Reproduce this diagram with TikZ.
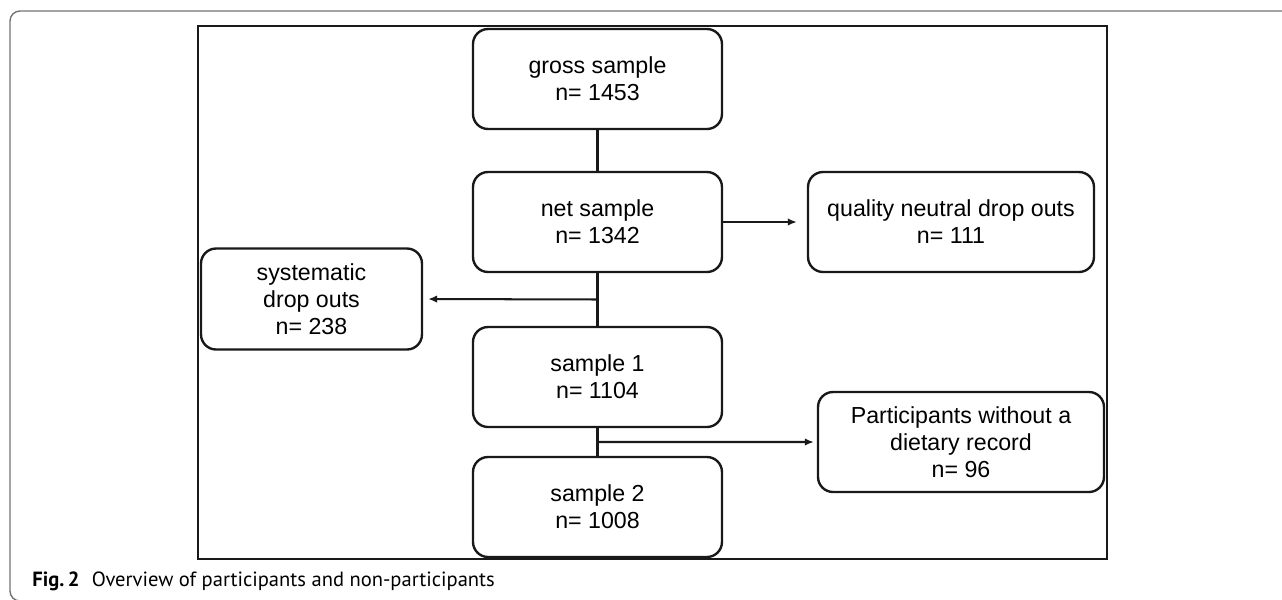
\documentclass[tikz,border=0pt]{standalone}
\usepackage{fontspec}
\setmainfont{Liberation Sans}
\newfontfamily\capfont{PT Sans}
\usepackage{tikz}
\usetikzlibrary{arrows.meta,calc}
\colorlet{flowline}{black!90}
\colorlet{framegray}{black!55}
\tikzset{
  flowstage/.style={
    rounded corners=3mm,
    draw=flowline,
    line width=1.35pt,
    align=center,
    inner sep=3pt,
    font=\fontsize{13.2}{15.3}\selectfont
  },
  mainbox/.style={flowstage,minimum width=49.8mm,minimum height=20mm},
  sidebox/.style={flowstage,minimum width=57.2mm,minimum height=20mm},
  sysbox/.style={flowstage,minimum width=44.2mm,minimum height=20.2mm},
  flowlink/.style={line width=1.15pt,flowline},
  flowarrow/.style={flowlink,-{Latex[length=1.8mm,width=1.5mm]}},
  figcaption/.style={font=\capfont\fontsize{11.7}{13}\selectfont,inner sep=0pt,anchor=base west}
}

\begin{document}
\begin{tikzpicture}[x=0.02cm,y=-0.02cm]
  \useasboundingbox (0,0) rectangle (1282,599);
  \begin{scope}
    \clip (0,0) rectangle (1282,599);
    \draw[framegray,line width=0.8pt,rounded corners=2mm] (10,11) rectangle (1300,601);
  \end{scope}
  \draw[flowline,line width=0.7pt] (198,26) rectangle (1107,559);

  % main column
  \node[mainbox] (gross) at (597.5,79) {gross sample\\n= 1453};
  \node[mainbox] (net) at (597.5,222) {net sample\\n= 1342};
  \node[mainbox] (sample1) at (597.5,377) {sample 1\\n= 1104};
  \node[mainbox] (sample2) at (597.5,507) {sample 2\\n= 1008};

  % drop outs
  \node[sidebox] (quality) at (951,222) {quality neutral drop outs\\n= 111};
  \node[sysbox] (systematic) at (311.5,299) {systematic\\drop outs\\n= 238};
  \node[sidebox] (nodiet) at (961,442) {Participants without a\\dietary record\\n= 96};

  \coordinate (fork1) at ($(net.south)!0.5!(sample1.north)$);
  \coordinate (fork2) at ($(sample1.south)!0.5!(sample2.north)$);

  \draw[flowlink] (gross) -- (net);
  \draw[flowlink] (net) -- (sample1);
  \draw[flowlink] (sample1) -- (sample2);
  \draw[flowarrow,shorten >=10*0.02cm] (net) -- (quality);
  \draw[flowarrow,shorten >=5*0.02cm] (fork1) -- (systematic.east);
  \draw[flowarrow,shorten >=3*0.02cm] (fork2) -- (nodiet.west);

  \node[figcaption] (caption) at (32,586)
    {\textbf{Fig.\,2}\hspace{0.6em}Overview of participants and non-participants};
\end{tikzpicture}
\end{document}
